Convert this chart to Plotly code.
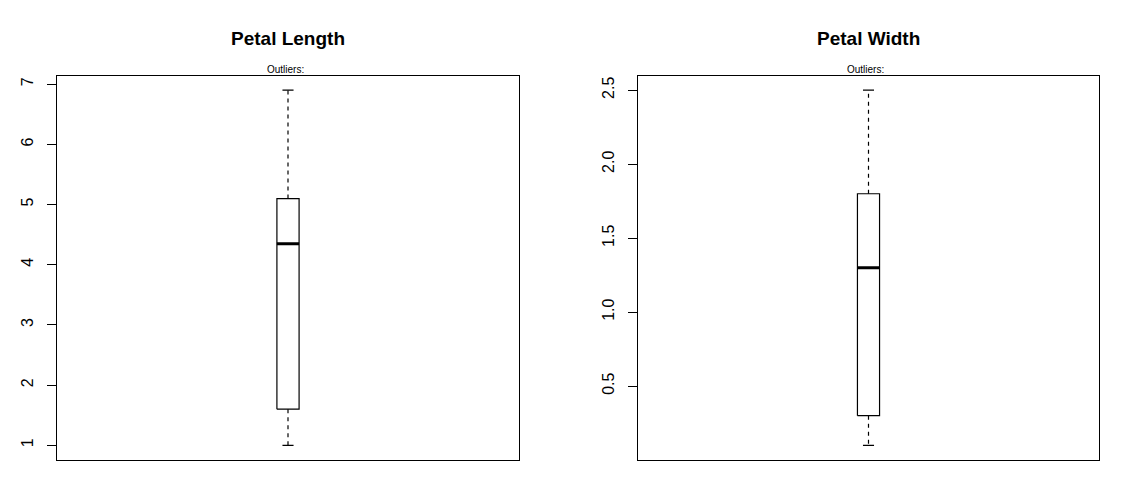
import plotly.graph_objects as go

# ---- data ----
panel_titles = ["Petal Length", "Petal Width"]
sub_labels = ["Outliers:", "Outliers:"]
whisker_low = [1.0, 0.1]
quartile_1 = [1.6, 0.3]
medians = [4.35, 1.3]
quartile_3 = [5.1, 1.8]
whisker_high = [6.9, 2.5]
tick_values = [[1, 2, 3, 4, 5, 6, 7], [0.5, 1.0, 1.5, 2.0, 2.5]]
tick_labels = [["1", "2", "3", "4", "5", "6", "7"], ["0.5", "1.0", "1.5", "2.0", "2.5"]]

# ---- layout constants ----
W, H = 1127, 497
x_domains = [[57 / W, 519 / W], [638 / W, 1099 / W]]
y_domain = [1 - 459.5 / H, 1 - 76 / H]
center = 0.5
box_half = 0.024
cap_half = 0.012
FONT = "Liberation Sans, Arial, sans-serif"

fig = go.Figure()
line_style = dict(color="black", width=1.2)

for i in range(2):
    xa = "x" if i == 0 else "x2"
    ya = "y" if i == 0 else "y2"
    c = center
    # box
    fig.add_trace(go.Scatter(
        x=[c - box_half, c + box_half, c + box_half, c - box_half, c - box_half],
        y=[quartile_1[i], quartile_1[i], quartile_3[i], quartile_3[i], quartile_1[i]],
        mode="lines", line=line_style, xaxis=xa, yaxis=ya, hoverinfo="skip"))
    # median
    fig.add_trace(go.Scatter(
        x=[c - box_half, c + box_half], y=[medians[i], medians[i]],
        mode="lines", line=dict(color="black", width=3), xaxis=xa, yaxis=ya, hoverinfo="skip"))
    # whiskers (dashed)
    fig.add_trace(go.Scatter(
        x=[c, c, None, c, c],
        y=[quartile_3[i], whisker_high[i], None, quartile_1[i], whisker_low[i]],
        mode="lines", line=dict(color="black", width=1.2, dash="4px,4px"),
        xaxis=xa, yaxis=ya, hoverinfo="skip"))
    # caps
    fig.add_trace(go.Scatter(
        x=[c - cap_half, c + cap_half, None, c - cap_half, c + cap_half],
        y=[whisker_high[i], whisker_high[i], None, whisker_low[i], whisker_low[i]],
        mode="lines", line=line_style, xaxis=xa, yaxis=ya, hoverinfo="skip"))

layout = dict(
    width=W, height=H, margin=dict(l=0, r=0, t=0, b=0),
    paper_bgcolor="white", plot_bgcolor="white", showlegend=False,
    font=dict(family=FONT, color="black"),
)
fig.update_layout(**layout)

for i in range(2):
    span = whisker_high[i] - whisker_low[i]
    yr = [whisker_low[i] - 0.04 * span, whisker_high[i] + 0.04 * span]
    xkey = "xaxis" if i == 0 else "xaxis2"
    ykey = "yaxis" if i == 0 else "yaxis2"
    fig.update_layout(**{
        xkey: dict(domain=x_domains[i], range=[0, 1], showgrid=False, zeroline=False,
                   showticklabels=False, ticks="", showline=True, mirror=True,
                   linecolor="black", linewidth=1, anchor="y" if i == 0 else "y2"),
        ykey: dict(domain=y_domain, range=yr, showgrid=False, zeroline=False,
                   showline=True, mirror=True, linecolor="black", linewidth=1,
                   ticks="outside", ticklen=9, tickwidth=1, tickcolor="black",
                   tickvals=tick_values[i], ticktext=tick_labels[i], tickangle=-90,
                   ticklabelstandoff=8,
                   tickfont=dict(size=16, family=FONT, color="black"),
                   anchor="x" if i == 0 else "x2"),
    })
    xmid = (x_domains[i][0] + x_domains[i][1]) / 2
    fig.add_annotation(x=xmid, y=1 - 38 / H, xref="paper", yref="paper",
                       text="<b>" + panel_titles[i] + "</b>", showarrow=False,
                       font=dict(size=19, family=FONT, color="black"),
                       xanchor="center", yanchor="middle")
    fig.add_annotation(x=xmid, y=1 - 69.5 / H, xref="paper", yref="paper",
                       text=sub_labels[i], showarrow=False, xshift=-3,
                       font=dict(size=10, family=FONT, color="black"),
                       xanchor="center", yanchor="middle")

fig.write_html("out.html")
